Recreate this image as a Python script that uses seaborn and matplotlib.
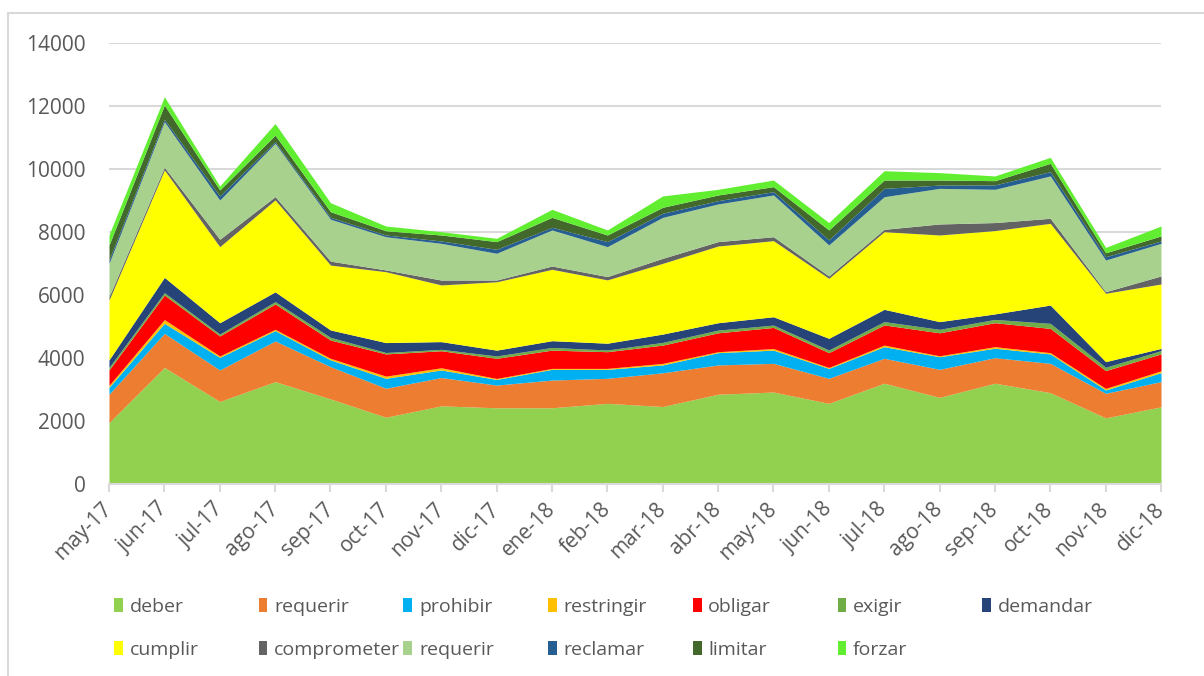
import matplotlib
matplotlib.use("Agg")
import matplotlib.pyplot as plt
from matplotlib.patches import Patch, Rectangle
import seaborn as sns
import numpy as np

months = ["may-17", "jun-17", "jul-17", "ago-17", "sep-17", "oct-17", "nov-17", "dic-17",
          "ene-18", "feb-18", "mar-18", "abr-18", "may-18", "jun-18", "jul-18", "ago-18",
          "sep-18", "oct-18", "nov-18", "dic-18"]

series_names = ["deber", "requerir", "prohibir", "restringir", "obligar", "exigir", "demandar",
                "cumplir", "comprometer", "requerir", "reclamar", "limitar", "forzar"]

deber = [1950, 3700, 2620, 3250, 2700, 2120, 2480, 2420, 2420, 2560, 2460, 2850, 2920, 2560, 3200, 2750, 3200, 2900, 2100, 2450]
requerir = [900, 1080, 1000, 1290, 1025, 920, 900, 720, 880, 795, 1070, 930, 910, 795, 790, 890, 810, 930, 780, 800]
prohibir = [220, 320, 400, 330, 215, 315, 240, 180, 340, 285, 250, 390, 420, 315, 370, 400, 300, 300, 105, 285]
restringir = [60, 120, 45, 40, 50, 70, 70, 30, 30, 30, 50, 30, 50, 30, 50, 30, 50, 40, 50, 60]
obligar = [490, 780, 635, 805, 580, 705, 540, 640, 580, 530, 580, 600, 670, 470, 640, 730, 760, 770, 565, 535]
exigir = [80, 75, 60, 75, 85, 45, 45, 75, 85, 55, 85, 85, 75, 85, 105, 110, 105, 160, 105, 105]
demandar = [240, 485, 360, 310, 235, 315, 245, 185, 215, 215, 265, 235, 265, 370, 390, 245, 175, 580, 180, 70]
cumplir = [1900, 3410, 2415, 2920, 2060, 2250, 1800, 2170, 2265, 2010, 2245, 2435, 2415, 1905, 2465, 2750, 2645, 2595, 2170, 2045]
comprometer = [105, 85, 235, 105, 125, 55, 155, 55, 105, 105, 160, 140, 125, 75, 75, 350, 255, 160, 50, 255]
requerir_2 = [1060, 1445, 1245, 1690, 1330, 1055, 1165, 850, 1145, 950, 1300, 1195, 1325, 985, 1035, 1130, 1055, 1345, 1005, 1035]
reclamar = [105, 75, 130, 50, 60, 55, 75, 125, 85, 160, 130, 105, 105, 160, 265, 105, 140, 135, 105, 75]
limitar = [475, 455, 190, 210, 180, 135, 190, 245, 315, 210, 190, 180, 160, 315, 265, 160, 135, 265, 125, 160]
forzar = [320, 265, 125, 370, 285, 150, 105, 105, 255, 160, 360, 180, 210, 235, 295, 235, 150, 190, 170, 315]

colors = ["#92D050", "#ED7D31", "#00B0F0", "#FFC000", "#FF0000", "#70AD47", "#264478",
          "#FFFF00", "#636363", "#A9D18E", "#255E91", "#43682B", "#61EE30"]

sns.set_theme(style="white")
plt.rcParams["font.family"] = ["Open Sans", "DejaVu Sans"]
grey = "#595959"

fig = plt.figure(figsize=(12.04, 6.76), dpi=100)
ax = fig.add_axes([109 / 1204, 192 / 676, 1052 / 1204, 441 / 676])

values = [deber, requerir, prohibir, restringir, obligar, exigir, demandar,
          cumplir, comprometer, requerir_2, reclamar, limitar, forzar]
x = np.arange(len(months))
ax.stackplot(x, *values, colors=colors, linewidth=0)

ax.set_xlim(0, len(months) - 1)
ax.set_ylim(0, 14000)
ax.set_yticks(np.arange(0, 14001, 2000))
ax.yaxis.grid(True, color="#d9d9d9", linewidth=1.5)
ax.set_axisbelow(True)
ax.set_xticks(x)
ax.set_xticklabels(months, rotation=45, ha="right", va="center", rotation_mode="anchor")
ax.tick_params(axis="y", length=0, pad=17, labelsize=15, labelcolor=grey)
ax.tick_params(axis="x", bottom=True, length=6, width=1.5, color="#d9d9d9", pad=10,
               labelsize=15, labelcolor=grey)
for s in ["top", "right", "left"]:
    ax.spines[s].set_visible(False)
ax.spines["bottom"].set_color("#d9d9d9")
ax.spines["bottom"].set_linewidth(1.5)

# legend laid out in fixed-width columns, filled row by row
handles = [Patch(facecolor=c, edgecolor="none") for c in colors]
ncol = 7
for j in range(ncol):
    idx = [i for i in (j, j + ncol) if i < len(handles)]
    fig.legend([handles[i] for i in idx], [series_names[i] for i in idx],
               loc="upper left", bbox_to_anchor=((114 + j * 144.7) / 1204, 1 - 598 / 676),
               frameon=False, fontsize=14, labelcolor=grey, borderpad=0, borderaxespad=0,
               handlelength=0.45, handleheight=0.75, handletextpad=0.35, labelspacing=1.27)

fig.add_artist(Rectangle((8 / 1204, -0.1), 2, (676 - 13) / 676 + 0.1, transform=fig.transFigure,
                         fill=False, edgecolor="#d9d9d9", linewidth=1.5))

fig.savefig("out.png", dpi=100)
